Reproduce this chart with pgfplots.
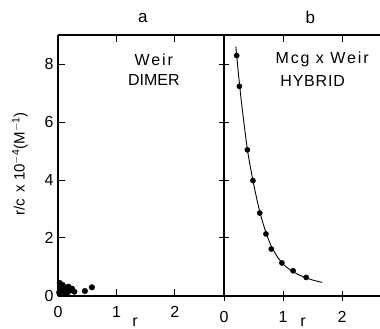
\documentclass[border=0pt]{standalone}
\usepackage{pgfplots}
\pgfplotsset{compat=1.18}
\usepackage{fontspec}
\setmainfont{Liberation Sans}
\newfontfamily\spaced[LetterSpace=12]{Liberation Sans}
\newfontfamily\spacedb[LetterSpace=5]{Liberation Sans}
\begin{document}
\begin{tikzpicture}
\pgfplotsset{
  common/.style={
    scale only axis, height=261pt, ymin=0, ymax=9,
    axis lines*=left,
    axis line style={line width=1.2pt},
    every tick/.style={black, line width=1pt},
    major tick length=7pt,
    ytick={0,2,4,6,8},
    xtick={0,1,2},
    /pgf/number format/assume math mode=true,
    tick label style={font=\fontsize{16}{16}\selectfont},
    clip=false,
    anchor=south west,
  }
}
% ---------- panel a ----------
\begin{axis}[common, at={(58pt,33pt)}, width=166pt, xmin=0, xmax=2.84,
  tick align=inside, yticklabel style={xshift=-1pt}, xticklabel style={yshift=-7pt}]
\addplot[only marks, mark=*, mark size=2.8pt, black] coordinates {
(0.03,0.45) (0.05,0.25) (0.08,0.38) (0.11,0.3) (0.06,0.15) (0.14,0.22)
(0.18,0.32) (0.2,0.18) (0.24,0.25) (0.28,0.15) (0.1,0.12) (0.16,0.12)
(0.02,0.12) (0.46,0.17) (0.58,0.3)};
\draw[line width=1.2pt] (rel axis cs:0,1) -- (rel axis cs:1,1);
\draw[line width=1pt] (axis cs:1,9) -- ++(0,-7pt);
\draw[line width=1pt] (axis cs:2,9) -- ++(0,-7pt);
\node[font=\fontsize{17}{17}\selectfont] at (axis cs:1.45,9.6) {a};
\node[font=\fontsize{16}{16}\spaced] at (axis cs:1.64,8.15) {Weir};
\node[font=\fontsize{16}{16}\selectfont] at (axis cs:1.64,7.45) {DIMER};
\end{axis}
% ---------- panel b ----------
\begin{axis}[common, at={(224pt,33pt)}, width=156pt, xmin=0, xmax=2.64,
  tick align=center, yticklabels={}, xticklabel style={yshift=-7pt}, major tick length=10pt]
\addplot[black, line width=0.9pt, smooth] coordinates {
(0.2,8.6) (0.25,7.55) (0.3,6.6) (0.4,5.0) (0.5,3.88) (0.6,2.95) (0.7,2.25)
(0.8,1.72) (0.9,1.36) (1.0,1.1) (1.1,0.93) (1.2,0.8) (1.3,0.7) (1.4,0.62)
(1.5,0.55) (1.66,0.47)};
\addplot[only marks, mark=*, mark size=2.6pt, black] coordinates {
(0.215,8.29) (0.26,7.23) (0.395,5.04) (0.49,3.98) (0.605,2.86) (0.71,2.14)
(0.80,1.62) (0.98,1.14) (1.17,0.87) (1.39,0.64)};
\draw[line width=1.2pt] (rel axis cs:0,1) -- (rel axis cs:1,1);
\draw[line width=1pt] (axis cs:1,9) -- ++(0,-7pt);
\draw[line width=1pt] (axis cs:2,9) -- ++(0,-7pt);
\node[font=\fontsize{17}{17}\selectfont] at (axis cs:1.46,9.6) {b};
\node[font=\fontsize{16}{16}\spaced] at (axis cs:1.66,8.15) {Mcg x Weir};
\node[font=\fontsize{16}{16}\spacedb] at (axis cs:1.5,7.42) {HYBRID};
\end{axis}
% labels
\node[rotate=90, font=\fontsize{15}{15}\selectfont] at (20pt,165pt) {r/c\, x 10\textsuperscript{$-$4}(M\textsuperscript{$-$1})};
\node[anchor=north, font=\fontsize{16}{16}\selectfont] at (135pt,15pt) {r};
\node[anchor=north, font=\fontsize{16}{16}\selectfont] at (303pt,15pt) {r};
\pgfresetboundingbox
\path[use as bounding box] (0pt,0pt) rectangle (380pt,329pt);
\end{tikzpicture}
\end{document}
